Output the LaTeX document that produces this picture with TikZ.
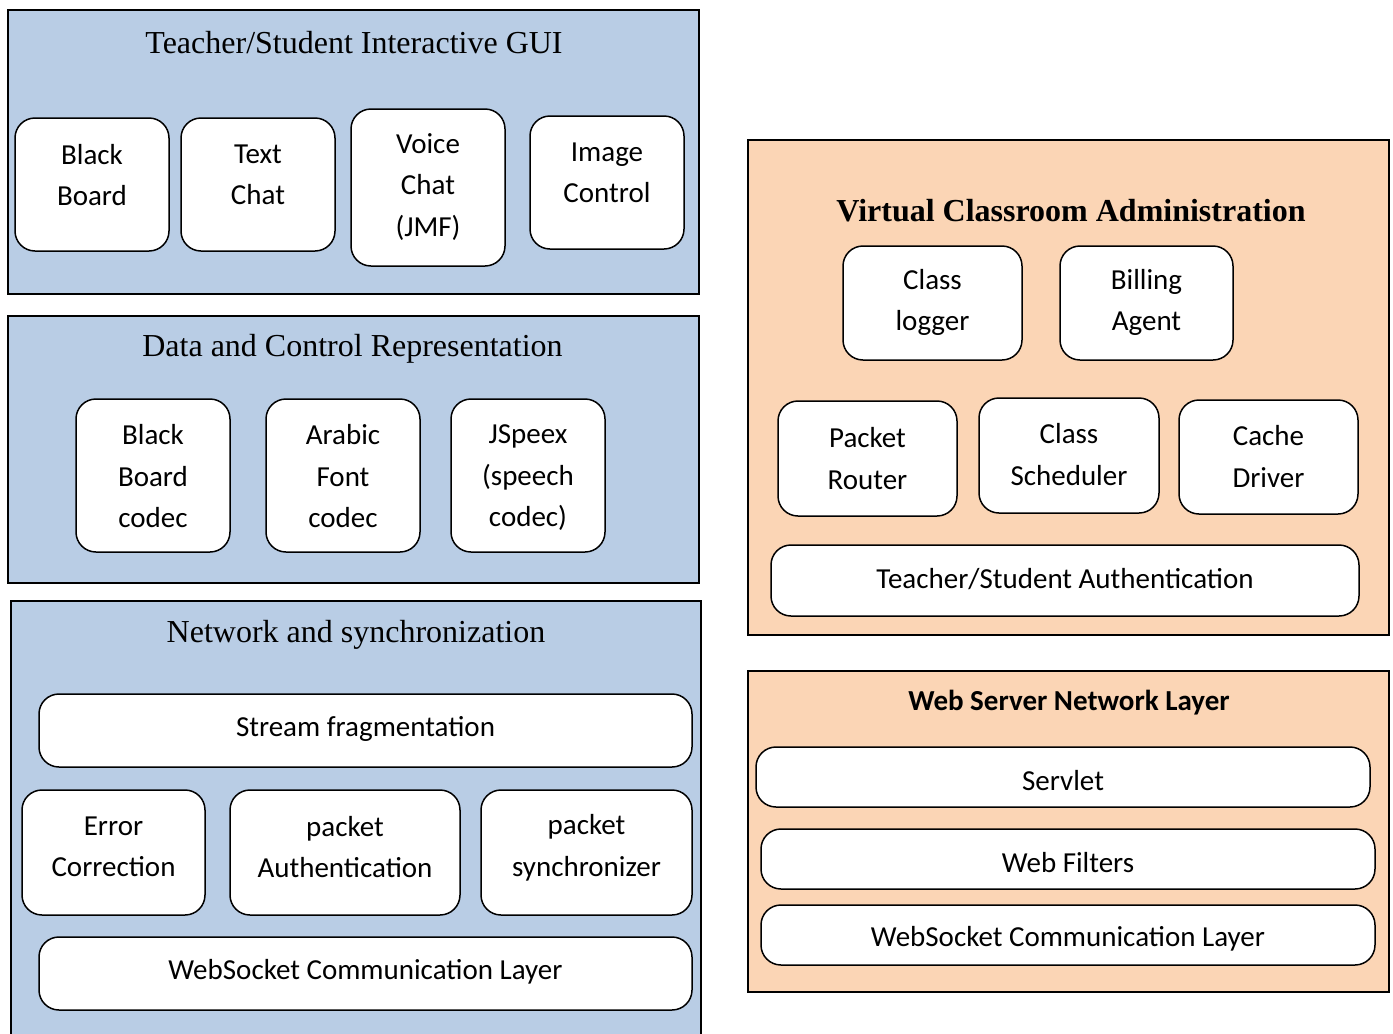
\documentclass[tikz,border=0pt]{standalone}
\usepackage{fontspec}
\setmainfont{Liberation Serif}
\newfontfamily\calib{Carlito}
\definecolor{panelblue}{HTML}{B9CDE5}
\definecolor{panelpeach}{HTML}{FBD5B5}
\newcommand\rbox[7]{%
  \node[rbx, minimum width={(#4-#2)*1pt}, minimum height={(#5-#3)*1pt}] (#1) at ({(#2+#4)/2},{(#3+#5)/2}) {};
  \node[txt] (#1-t) at ({(#2+#4)/2},#6) {#7};}
\begin{document}
\begin{tikzpicture}[x=1pt,y=-1pt,
  rbx/.style={draw=black, line width=1.5pt, fill=white, rounded corners=20pt, inner sep=0pt},
  txt/.style={align=center, inner sep=0pt, yshift=-2pt, font=\calib\fontsize{29}{41.5}\selectfont},
  ttl/.style={inner sep=0pt, yshift=-3pt, font=\fontsize{32}{38}\selectfont},
  bpanel/.style={fill=panelblue, draw=black, line width=1.5pt},
  ppanel/.style={fill=panelpeach, draw=black, line width=1.5pt}]
\useasboundingbox (0,0) rectangle (1393,1034);
\begin{scope}
\clip (0,0) rectangle (1393,1034);
% left panels
\draw[bpanel] (8,10) rectangle (699,294);
\draw[bpanel] (8,316) rectangle (699,583);
\fill[panelblue] (11,601) rectangle (701,1040);
\draw[black, line width=1.5pt] (11,1040) -- (11,601) -- (701,601) -- (701,1040);
% right panels
\draw[ppanel] (748,140) rectangle (1389,635);
\draw[ppanel] (748,671) rectangle (1389,992);
\end{scope}

% titles
\node[ttl] (t1) at (354,40) {Teacher/Student Interactive GUI};
\node[ttl] (t2) at (352.5,346) {Data and Control Representation};
\node[ttl] (t3) at (356,632) {Network and synchronization};
\node[ttl, font=\bfseries\fontsize{32}{38}\selectfont] (t4) at (1071,208) {Virtual Classroom Administration};
\node[txt, font=\calib\bfseries\fontsize{29}{35}\selectfont] (t5) at (1069,701) {Web Server Network Layer};

% panel 1
\rbox{bb}{15}{118}{169}{251}{173}{Black\\Board}
\rbox{tc}{181}{118}{335}{251}{173}{Text\\Chat}
\rbox{vc}{351}{109}{505}{266}{185}{Voice\\Chat\\(JMF)}
\rbox{ic}{530}{116}{684}{249}{171}{Image\\Control}
% panel 2
\rbox{bbc}{76}{399}{230}{552}{474.5}{Black\\Board\\codec}
\rbox{afc}{266}{399}{420}{552}{474.5}{Arabic\\Font\\codec}
\rbox{jsp}{451}{399}{605}{552}{476}{JSpeex\\(speech\\codec)}
% panel 3
\rbox{sf}{39}{694}{692}{767}{727}{Stream fragmentation}
\rbox{ec}{22}{790}{205}{915}{845}{Error\\Correction}
\rbox{pa}{230}{790}{460}{915}{845}{packet\\Authentication}
\rbox{ps}{481}{790}{692}{915}{846}{packet\\synchronizer}
\rbox{ws}{39}{937}{692}{1010}{970}{WebSocket Communication Layer}
% right panel 1
\rbox{cl}{843}{246}{1022}{360}{300.5}{Class\\logger}
\rbox{ba}{1060}{246}{1233}{360}{300.5}{Billing\\Agent}
\rbox{pr}{778}{401}{957}{516}{456.5}{Packet\\Router}
\rbox{cs}{979}{398}{1159}{513}{452.5}{Class\\Scheduler}
\rbox{cd}{1179}{400}{1358}{514}{454.5}{Cache\\Driver}
\rbox{tsa}{771}{545}{1359}{616}{577}{Teacher/Student Authentication}
% right panel 2
\rbox{sv}{756}{747}{1370}{807}{779}{Servlet}
\rbox{wf}{761}{829}{1375}{889}{861}{Web Filters}
\rbox{wsr}{761}{905}{1375}{965}{937}{WebSocket Communication Layer}
\end{tikzpicture}
\end{document}
